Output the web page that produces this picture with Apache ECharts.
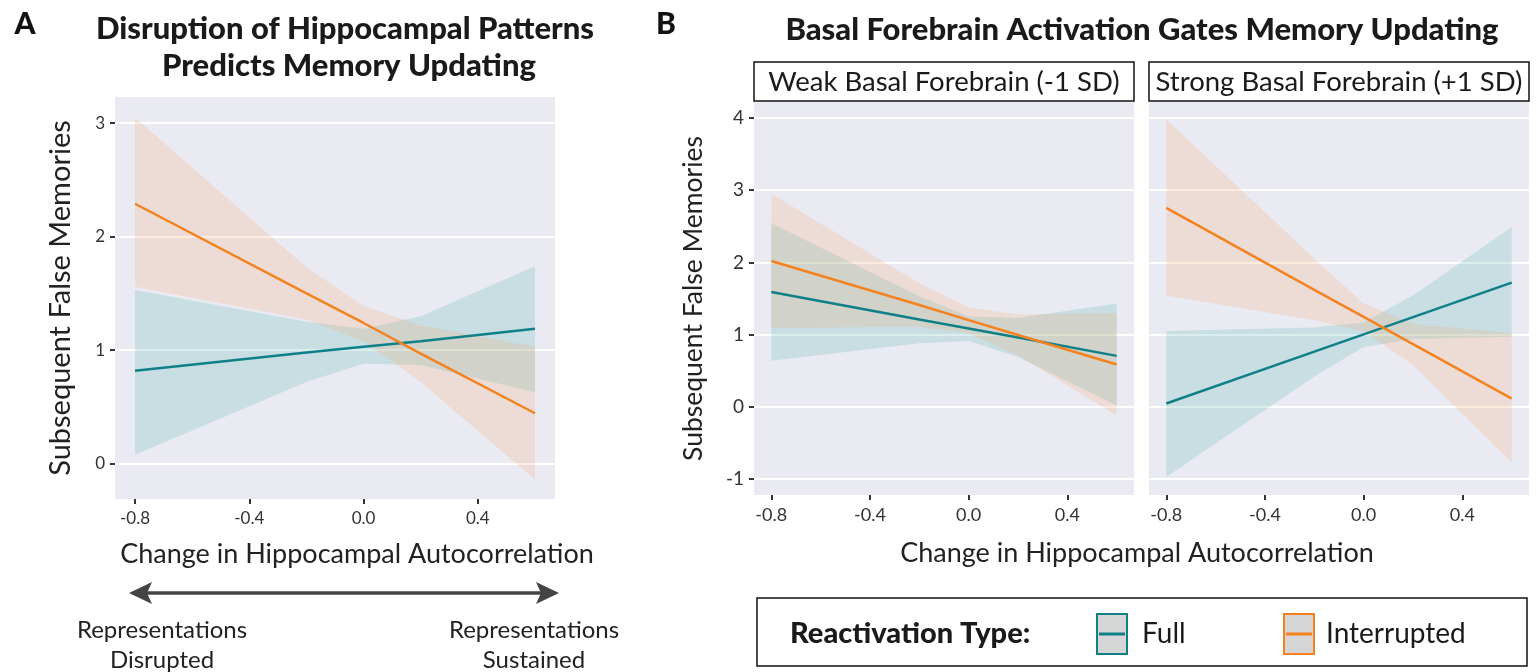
<!DOCTYPE html>
<html>
<head>
<meta charset="utf-8">
<script src="https://cdn.jsdelivr.net/npm/echarts@6/dist/echarts.min.js"></script>
<style>
  html, body { margin: 0; padding: 0; background: #fff; }
  #chart { width: 1536px; height: 672px; }
</style>
</head>
<body>
<div id="chart"></div>
<script>
// tick values
const xTicks = [-0.8, -0.4, 0, 0.4];
const yTicksA = [0, 1, 2, 3];
const yTicksB = [-1, 0, 1, 2, 3, 4];

// x positions where the model was evaluated
const xs = [-0.8, -0.2, 0, 0.2, 0.6];

// panel A: full vs interrupted reactivation
const aFullFit  = [0.82, 0.98, 1.03, 1.08, 1.19];
const aFullLow  = [0.08, 0.72, 0.88, 0.87, 0.63];
const aFullHigh = [1.53, 1.25, 1.19, 1.30, 1.74];
const aIntFit   = [2.29, 1.50, 1.24, 0.97, 0.445];
const aIntLow   = [1.56, 1.27, 1.08, 0.72, -0.14];
const aIntHigh  = [3.05, 1.73, 1.39, 1.22, 1.03];

// panel B, weak basal forebrain (-1 SD)
const wFullFit  = [1.59, 1.21, 1.085, 0.96, 0.706];
const wFullLow  = [0.64, 0.88, 0.91, 0.69, 0.02];
const wFullHigh = [2.54, 1.53, 1.25, 1.23, 1.43];
const wIntFit   = [2.02, 1.41, 1.20, 0.995, 0.586];
const wIntLow   = [1.09, 1.11, 1.02, 0.71, -0.12];
const wIntHigh  = [2.95, 1.71, 1.38, 1.28, 1.30];

// panel B, strong basal forebrain (+1 SD)
const sFullFit  = [0.046, 0.764, 1.003, 1.242, 1.72];
const sFullLow  = [-0.97, 0.42, 0.83, 0.94, 0.97];
const sFullHigh = [1.05, 1.10, 1.17, 1.54, 2.49];
const sIntFit   = [2.755, 1.62, 1.246, 0.868, 0.115];
const sIntLow   = [1.54, 1.20, 1.05, 0.58, -0.775];
const sIntHigh  = [3.98, 2.05, 1.43, 1.15, 1.02];

const TEAL = '#0f8088';
const ORANGE = '#f4821f';
const TEAL_FILL = 'rgba(64,174,170,0.2)';
const ORANGE_FILL = 'rgba(244,165,100,0.2)';
const PANEL_BG = '#EAEAF2';
const FONT = 'Lato';

function pts(vals) {
  return xs.map((x, i) => [x, vals[i]]);
}

// confidence ribbon as one polygon through the axis scales
function band(gi, lo, hi, fill) {
  return {
    type: 'custom', xAxisIndex: gi, yAxisIndex: gi,
    data: xs.map((x, i) => [x, lo[i], hi[i]]),
    encode: { x: 0, y: [1, 2] },
    silent: true, z: 2,
    renderItem: function (params, api) {
      if (params.dataIndex !== 0) return null;
      const top = xs.map((x, i) => api.coord([x, hi[i]]));
      const bottom = xs.map((x, i) => api.coord([x, lo[i]])).reverse();
      return {
        type: 'polygon',
        shape: { points: top.concat(bottom) },
        style: { fill: fill }
      };
    }
  };
}

function fitLine(gi, vals, color, gridVals) {
  const s = {
    type: 'line', xAxisIndex: gi, yAxisIndex: gi,
    data: pts(vals), symbol: 'none', silent: true, z: 4,
    lineStyle: { color: color, width: 2.5 }
  };
  if (gridVals) {
    s.markLine = {
      silent: true, symbol: 'none', z: 1,
      label: { show: false },
      lineStyle: { color: '#fff', width: 2, type: 'solid' },
      data: gridVals.map(v => ({ yAxis: v }))
    };
  }
  return s;
}

function xAxisFor(gi, size) {
  return {
    gridIndex: gi, type: 'value', min: -0.87, max: 0.67,
    axisLine: { show: false, onZero: false },
    axisTick: { show: true, length: 5, customValues: xTicks, lineStyle: { color: '#333', width: 2 } },
    axisLabel: {
      customValues: xTicks, formatter: v => v.toFixed(1),
      fontFamily: FONT, fontSize: size, color: '#333', margin: 11
    },
    splitLine: { show: false }
  };
}

function yAxisFor(gi, min, max, ticks, size, showLabels) {
  return {
    gridIndex: gi, type: 'value', min: min, max: max,
    axisLine: { show: false, onZero: false },
    axisTick: { show: showLabels, length: 5, customValues: ticks, lineStyle: { color: '#333', width: 2 } },
    axisLabel: {
      show: showLabels, customValues: ticks,
      fontFamily: FONT, fontSize: size, color: '#333', margin: 10
    },
    splitLine: { show: false }
  };
}

const yA = yAxisFor(0, -0.31, 3.23, yTicksA, 17, true);
yA.name = 'Subsequent False Memories';
yA.nameLocation = 'middle';
yA.nameGap = 40;
yA.nameTextStyle = { fontFamily: FONT, fontSize: 29, color: '#222' };

const yB = yAxisFor(1, -1.22, 4.22, yTicksB, 19, true);
yB.name = 'Subsequent False Memories';
yB.nameLocation = 'middle';
yB.nameGap = 47;
yB.nameTextStyle = { fontFamily: FONT, fontSize: 26.5, color: '#222' };

const gridBase = { show: true, backgroundColor: PANEL_BG, borderWidth: 0, outerBoundsMode: 'none' };

function txt(x, y, text, size, opts) {
  return {
    type: 'text', x: x, y: y, silent: true,
    style: Object.assign({
      text: text, fontFamily: FONT, fontSize: size, fill: '#1a1a1a',
      textAlign: 'center', textVerticalAlign: 'middle'
    }, opts || {})
  };
}

function legendKey(x, color) {
  return [
    { type: 'rect', shape: { x: x, y: 614, width: 30, height: 40 },
      style: { fill: '#d6d6d6', stroke: color, lineWidth: 2 } },
    { type: 'line', shape: { x1: x + 2, y1: 634, x2: x + 28, y2: 634 },
      style: { stroke: color, lineWidth: 3 } }
  ];
}

const chart = echarts.init(document.getElementById('chart'));
chart.setOption({
  animation: false,
  grid: [
    Object.assign({ left: 115, top: 97, width: 440, height: 402 }, gridBase),
    Object.assign({ left: 754, top: 102, width: 380, height: 393 }, gridBase),
    Object.assign({ left: 1149, top: 102, width: 380, height: 393 }, gridBase)
  ],
  xAxis: [xAxisFor(0, 17), xAxisFor(1, 18), xAxisFor(2, 18)],
  yAxis: [yA, yB, yAxisFor(2, -1.22, 4.22, yTicksB, 19, false)],
  series: [
    band(0, aFullLow, aFullHigh, TEAL_FILL),
    band(0, aIntLow, aIntHigh, ORANGE_FILL),
    fitLine(0, aFullFit, TEAL, yTicksA),
    fitLine(0, aIntFit, ORANGE),
    band(1, wFullLow, wFullHigh, TEAL_FILL),
    band(1, wIntLow, wIntHigh, ORANGE_FILL),
    fitLine(1, wFullFit, TEAL, yTicksB),
    fitLine(1, wIntFit, ORANGE),
    band(2, sFullLow, sFullHigh, TEAL_FILL),
    band(2, sIntLow, sIntHigh, ORANGE_FILL),
    fitLine(2, sFullFit, TEAL, yTicksB),
    fitLine(2, sIntFit, ORANGE)
  ],
  graphic: [
    // panel letters and titles
    txt(25, 24, 'A', 30, { fontWeight: 900, fill: '#111' }),
    txt(666, 24, 'B', 30, { fontWeight: 900, fill: '#111' }),
    txt(345, 29, 'Disruption of Hippocampal Patterns', 31, { fontWeight: 900 }),
    txt(349, 66, 'Predicts Memory Updating', 31, { fontWeight: 900 }),
    txt(1142, 30, 'Basal Forebrain Activation Gates Memory Updating', 31, { fontWeight: 900 }),
    // facet strips
    { type: 'rect', shape: { x: 754, y: 62, width: 380, height: 39 },
      style: { fill: '#fff', stroke: '#111', lineWidth: 1.5 } },
    { type: 'rect', shape: { x: 1149, y: 62, width: 380, height: 39 },
      style: { fill: '#fff', stroke: '#111', lineWidth: 1.5 } },
    txt(944, 82, 'Weak Basal Forebrain (-1 SD)', 27.5),
    txt(1339, 82, 'Strong Basal Forebrain (+1 SD)', 27.5),
    // x axis titles
    txt(357, 554, 'Change in Hippocampal Autocorrelation', 27, { fill: '#222' }),
    txt(1137, 553, 'Change in Hippocampal Autocorrelation', 27, { fill: '#222' }),
    // arrow under panel A
    { type: 'line', shape: { x1: 145, y1: 593, x2: 543, y2: 593 },
      style: { stroke: '#444', lineWidth: 3.5 } },
    { type: 'polygon', shape: { points: [[129, 593], [152, 582], [147, 593], [152, 604]] },
      style: { fill: '#444' } },
    { type: 'polygon', shape: { points: [[559, 593], [536, 582], [541, 593], [536, 604]] },
      style: { fill: '#444' } },
    txt(162, 630, 'Representations', 24, { fill: '#222' }),
    txt(162, 660, 'Disrupted', 24, { fill: '#222' }),
    txt(534, 630, 'Representations', 24, { fill: '#222' }),
    txt(534, 660, 'Sustained', 24, { fill: '#222' }),
    // legend
    { type: 'rect', shape: { x: 757, y: 598, width: 770, height: 68 },
      style: { fill: '#fff', stroke: '#111', lineWidth: 1.5 } },
    txt(790, 634, 'Reactivation Type:', 29, { fontWeight: 900, textAlign: 'left' }),
    ...legendKey(1097, TEAL),
    txt(1142, 634, 'Full', 28, { textAlign: 'left' }),
    ...legendKey(1284, ORANGE),
    txt(1326, 634, 'Interrupted', 28, { textAlign: 'left' })
  ]
});
</script>
</body>
</html>
